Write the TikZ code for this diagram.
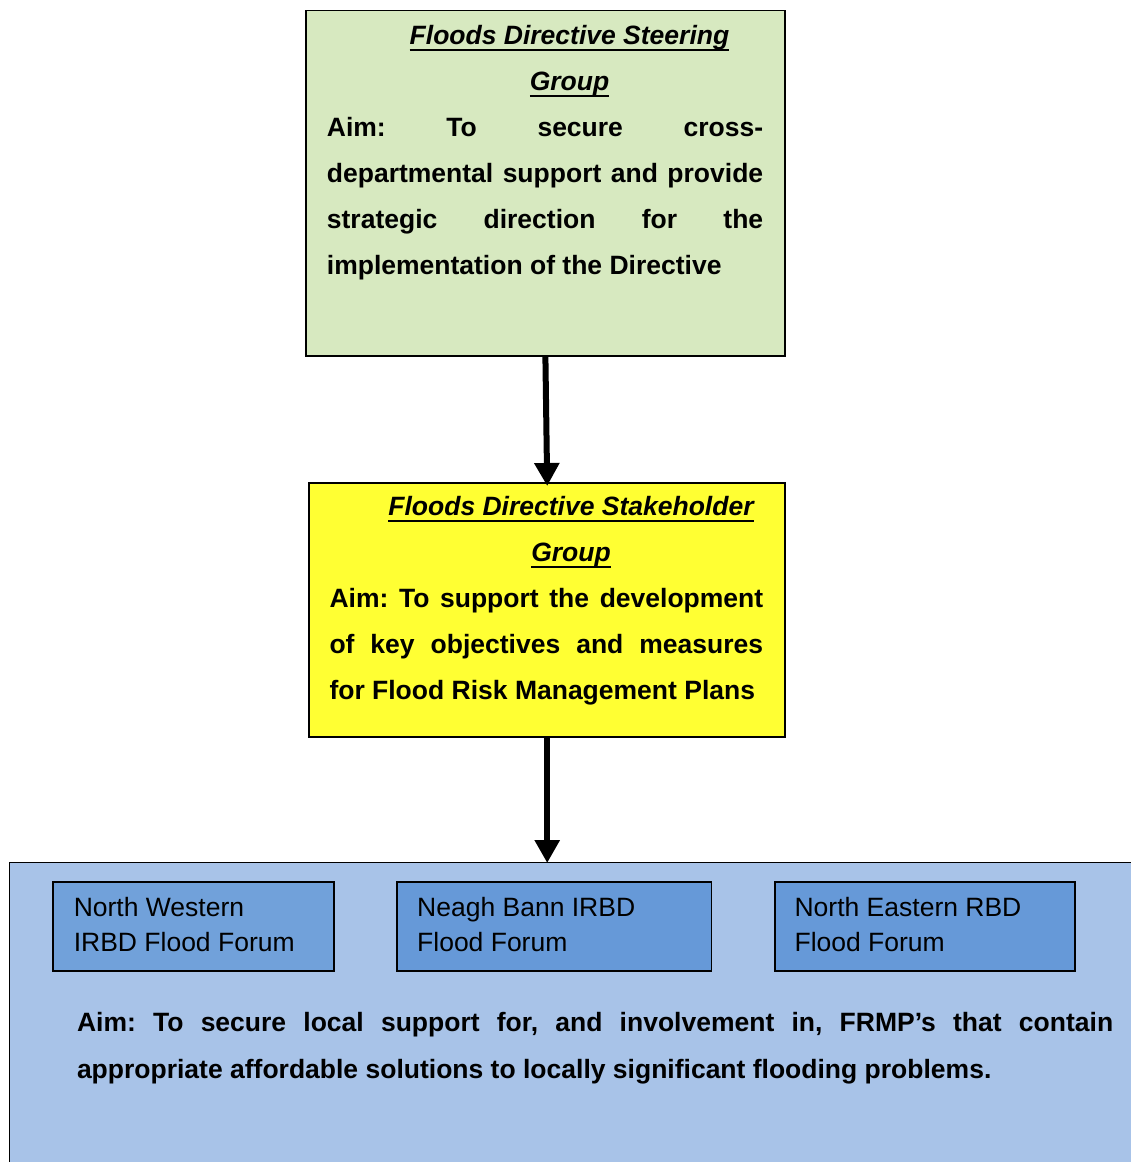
\documentclass[tikz,border=0pt]{standalone}
\usepackage{fontspec}
\setmainfont{Liberation Sans}
\usetikzlibrary{arrows.meta}
\definecolor{steerfill}{HTML}{D7E9C0}
\definecolor{stakefill}{HTML}{FFFF33}
\definecolor{outerfill}{HTML}{A8C3E8}
\definecolor{innerA}{HTML}{71A1DA}
\definecolor{innerB}{HTML}{6699D8}
\newcommand\myul[1]{\setbox0\hbox{#1}\rlap{\rule[-6.7pt]{\wd0}{2pt}}\box0}
\frenchspacing
\tikzset{
  box/.style={draw=black, line width=1.8pt, inner sep=0pt, rectangle},
  txt/.style={inner sep=0pt, font=\fontsize{26.5}{30}\selectfont\bfseries},
  ttl/.style={inner sep=0pt, font=\fontsize{26.5}{30}\selectfont\bfseries\itshape},
  fname/.style={inner sep=0pt, font=\fontsize{26.5}{30}\selectfont, anchor=base west},
  flow/.style={line width=6pt, -{Triangle[width=24pt,length=23pt]}}
}
\begin{document}
\begin{tikzpicture}[x=1pt,y=-1pt]
\useasboundingbox (0,0) rectangle (1131,1162);
\clip (0,0) rectangle (1131,1162);

% boxes
\node[box, fill=steerfill, anchor=north west, minimum width=479pt, minimum height=345.5pt] (steer) at (305,9.5) {};
\node[box, fill=stakefill, anchor=north west, minimum width=476pt, minimum height=254pt] (stake) at (308.3,482) {};
\node[box, fill=outerfill, anchor=north west, minimum width=1140pt, minimum height=320pt] (forum) at (8.5,861.5) {};
\node[box, fill=innerA, anchor=north west, minimum width=280.5pt, minimum height=89.5pt] (nw) at (52.3,880.7) {};
\node[box, fill=innerB, anchor=north west, minimum width=314.5pt, minimum height=89.5pt] (nb) at (396,880.7) {};
\node[box, fill=innerB, anchor=north west, minimum width=300pt, minimum height=89.5pt] (ne) at (773.7,880.7) {};

% steering group text
\node[ttl, anchor=base] (st1) at (569.5,44) {\myul{Floods Directive Steering}};
\node[ttl, anchor=base] (st2) at (569.5,90) {\myul{Group}};
\node[txt, anchor=base west] (st3) at (326.7,136.5) {\makebox[436.3pt][s]{Aim: To secure cross-}};
\node[txt, anchor=base west] (st4) at (326.7,182.5) {\makebox[436.3pt][s]{departmental support and provide}};
\node[txt, anchor=base west] (st5) at (326.7,228.5) {\makebox[436.3pt][s]{strategic direction for the}};
\node[txt, anchor=base west] (st6) at (326.7,274.5) {implementation of the Directive};

% stakeholder group text
\node[ttl, anchor=base] (sk1) at (571,515.7) {\myul{Floods Directive Stakeholder}};
\node[ttl, anchor=base] (sk2) at (571,561.7) {\myul{Group}};
\node[txt, anchor=base west] (sk3) at (329.3,607.7) {\makebox[433.7pt][s]{Aim: To support the development}};
\node[txt, anchor=base west] (sk4) at (329.3,653.5) {\makebox[433.7pt][s]{of key objectives and measures}};
\node[txt, anchor=base west] (sk5) at (329.3,699.3) {for Flood Risk Management Plans};

% forum names
\node[fname] (nw1) at (73.6,916) {North Western};
\node[fname] (nw2) at (73.6,951) {IRBD Flood Forum};
\node[fname] (nb1) at (417,916) {Neagh Bann IRBD};
\node[fname] (nb2) at (417,951) {Flood Forum};
\node[fname] (ne1) at (794.4,916) {North Eastern RBD};
\node[fname] (ne2) at (794.4,951) {Flood Forum};

% forum aim
\node[txt, anchor=base west] (fa1) at (76.8,1031.7) {\makebox[1036.2pt][s]{Aim: To secure local support for, and involvement in, FRMP’s that contain}};
\node[txt, anchor=base west] (fa2) at (76.8,1078.5) {appropriate affordable solutions to locally significant flooding problems.};

% connectors
\draw[flow] (steer.south) -- ([yshift=-4pt]stake.north);
\draw[flow] (stake.south) -- ([yshift=-1.5pt]stake.south |- forum.north);
\end{tikzpicture}
\end{document}
